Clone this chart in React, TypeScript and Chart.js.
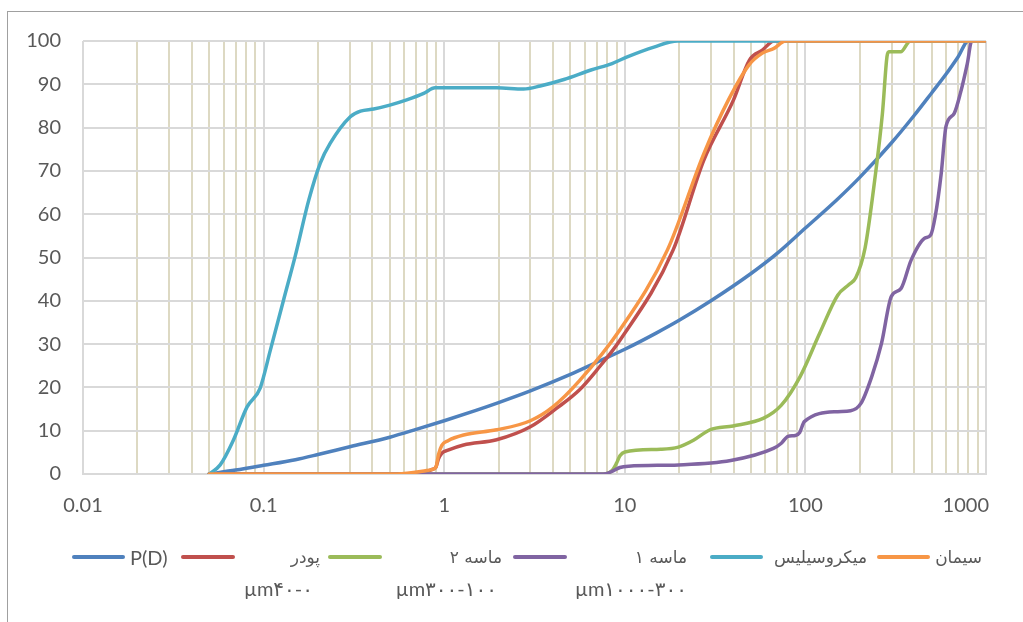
import React, { useEffect, useRef } from "react";
import { Chart, registerables } from "chart.js";

Chart.register(...registerables);

// Particle size (µm) and cumulative passing (%) for each material
const pdSizes = [0.05, 0.07, 0.1, 0.15, 0.2, 0.3, 0.5, 0.7, 1, 1.5, 2, 3, 5, 7, 10, 15, 20, 30, 50, 70, 100, 150, 200, 300, 400, 500, 600, 700, 800, 1000];
const pdValues = [0, 0.9, 2, 3.3, 4.5, 6.3, 8.5, 10.3, 12.3, 14.7, 16.5, 19.2, 23, 25.8, 28.8, 32.6, 35.5, 40, 46.3, 51, 56.8, 63.4, 68.5, 76.5, 82.8, 88, 92.3, 96.3, 100, 100];

const powderSizes = [0.05, 0.6, 0.8, 0.85, 0.9, 0.93, 0.97, 1.05, 1.28, 1.95, 3, 4.2, 5.6, 7, 9.4, 18.5, 27.4, 40, 49, 57.8, 67, 1000];
const powderValues = [0, 0, 0.6, 1, 1.6, 3.5, 4.8, 5.5, 6.7, 7.9, 10.9, 15.2, 19.4, 24, 30.9, 51.7, 72.5, 86.4, 95.6, 97.9, 100, 100];

const sand2Sizes = [0.05, 7.6, 8.5, 9, 9.4, 10, 15.8, 19.8, 24, 29.6, 39.8, 58.8, 73.6, 93.5, 120, 151, 175, 190, 214, 242, 267, 283, 290, 337, 381, 1000];
const sand2Values = [0, 0, 0.8, 2.5, 4.2, 5.1, 5.7, 6.2, 7.8, 10.2, 11.1, 12.9, 15.9, 22.5, 32.5, 41.3, 43.8, 45.3, 52.2, 67.9, 83.3, 96.4, 97.5, 97.5, 100, 100];

const sand1Sizes = [0.05, 7.6, 8.5, 9.4, 10.5, 19.8, 38.6, 66.5, 73.6, 80, 88, 93, 98.6, 151, 178, 203, 233, 264, 299, 338, 385, 455, 494, 523, 565, 600, 667, 721, 788, 834, 1000];
const sand1Values = [0, 0, 0.6, 1.5, 1.8, 2.1, 3.1, 5.9, 7.1, 8.7, 8.9, 9.6, 12.1, 14.4, 14.6, 16.3, 22.5, 30.2, 41, 42.8, 49.4, 54.4, 55.2, 59.4, 69.4, 80.2, 83.3, 87.9, 94.8, 100, 100];

const silicaSizes = [0.05, 0.0575, 0.068, 0.081, 0.0956, 0.109, 0.129, 0.15, 0.178, 0.206, 0.234, 0.302, 0.344, 0.407, 0.5, 0.62, 0.77, 0.89, 1.95, 2.75, 3.4, 4.6, 6.5, 8.5, 10.4, 14.5, 19.6, 1000];
const silicaValues = [0, 2.1, 7.8, 15.5, 19.8, 28.6, 40.2, 50.5, 63.3, 71.8, 76.4, 82.5, 83.8, 84.3, 85.2, 86.4, 87.9, 89.2, 89.2, 88.9, 89.6, 91.1, 93.3, 94.8, 96.4, 98.6, 100, 100];

const cementSizes = [0.05, 0.55, 0.8, 0.85, 0.9, 0.93, 0.97, 1.05, 1.28, 1.95, 3, 4, 5.6, 9.4, 17.2, 27.4, 37.5, 49, 57.8, 67, 77.5, 1000];
const cementValues = [0, 0, 0.8, 1, 1.6, 4.5, 6.6, 7.7, 9, 10.2, 12.3, 15.5, 21.5, 33.3, 51.7, 74, 86.4, 94.6, 97.2, 98.3, 100, 100];

// Axis ticks
const xDecades = [0.01, 0.1, 1, 10, 100, 1000];
const xTickLabels = ["0.01", "0.1", "1", "10", "100", "1000"];
const yTickStep = 10;

const COLORS = {
  pd: "#4F81BD",
  powder: "#C0504D",
  sand2: "#9BBB59",
  sand1: "#8064A2",
  silica: "#4BACC6",
  cement: "#F79646",
};

const toPoints = (xs: number[], ys: number[]) => xs.map((x, i) => ({ x, y: ys[i] }));

const isDecade = (v: number) => xDecades.some((d) => Math.abs(Math.log10(v) - Math.log10(d)) < 1e-6);

const gridValues: number[] = [];
for (let k = 0; k < xDecades.length - 1; k++) {
  for (let m = 1; m <= 9; m++) gridValues.push(Number((xDecades[k] * m).toPrecision(6)));
}
gridValues.push(xDecades[xDecades.length - 1]);

const tickFamily = "Lato, 'Open Sans', sans-serif";
const tickFont = { family: tickFamily, size: 20 };
const textColor = "#595959";

// Decade labels under the log axis; the last one is kept inside the plot edge
const decadeLabelsPlugin = {
  id: "decadeLabels",
  afterDraw(chart: any) {
    const scale = chart.scales.x;
    const ctx = chart.ctx;
    ctx.save();
    ctx.font = `20px ${tickFamily}`;
    ctx.fillStyle = textColor;
    ctx.textBaseline = "middle";
    const y = chart.chartArea.bottom + 32;
    xDecades.forEach((d, i) => {
      const px = scale.getPixelForValue(d);
      const last = i === xDecades.length - 1;
      ctx.textAlign = last ? "right" : "center";
      ctx.fillText(xTickLabels[i], last ? px + 3 : px, y);
    });
    ctx.restore();
  },
};

type LegendItem = {
  color: string;
  x1: number;
  x2: number;
  line1: string;
  line1Right?: number;
  line1Left?: number;
  line2?: string;
  line2Right?: number;
};

const legendItems: LegendItem[] = [
  { color: COLORS.pd, x1: 72, x2: 125, line1: "P(D)", line1Left: 130 },
  { color: COLORS.powder, x1: 181, x2: 235, line1: "پودر", line1Right: 320, line2: "µm۴۰-۰", line2Right: 313 },
  { color: COLORS.sand2, x1: 328, x2: 382, line1: "ماسه ۲", line1Right: 502, line2: "µm۳۰۰-۱۰۰", line2Right: 497 },
  { color: COLORS.sand1, x1: 513, x2: 567, line1: "ماسه ۱", line1Right: 687, line2: "µm۱۰۰۰-۳۰۰", line2Right: 687 },
  { color: COLORS.silica, x1: 710, x2: 763, line1: "میکروسیلیس", line1Right: 867 },
  { color: COLORS.cement, x1: 877, x2: 930, line1: "سیمان", line1Right: 982 },
];

const W = 1023;
const H = 622;
const ROW1 = 557;
const ROW2 = 588;

function Legend() {
  const textBase: React.CSSProperties = {
    position: "absolute",
    whiteSpace: "nowrap",
    color: textColor,
    lineHeight: "24px",
    height: 24,
  };
  const latin = "Lato, 'DejaVu Sans', sans-serif";
  const arabic = "'DejaVu Sans', 'Noto Sans', sans-serif";
  return (
    <>
      {legendItems.map((it, i) => (
        <React.Fragment key={i}>
          <div
            style={{
              position: "absolute",
              left: it.x1,
              top: ROW1 - 1.75,
              width: it.x2 - it.x1,
              height: 3.5,
              borderRadius: 2,
              background: it.color,
            }}
          />
          {it.line1Left !== undefined ? (
            <span style={{ ...textBase, left: it.line1Left, top: ROW1 - 12, fontFamily: latin, fontSize: 20 }}>{it.line1}</span>
          ) : (
            <span
              dir="rtl"
              style={{ ...textBase, right: W - (it.line1Right as number), top: ROW1 - 12, fontFamily: arabic, fontSize: 17 }}
            >
              {it.line1}
            </span>
          )}
          {it.line2 && (
            <span
              dir="ltr"
              style={{ ...textBase, right: W - (it.line2Right as number), top: ROW2 - 12, fontFamily: latin, fontSize: 20 }}
            >
              {it.line2}
            </span>
          )}
        </React.Fragment>
      ))}
    </>
  );
}

export default function App() {
  const canvasRef = useRef<HTMLCanvasElement>(null);

  useEffect(() => {
    if (!canvasRef.current) return;
    const ds = (data: { x: number; y: number }[], color: string) => ({
      data,
      borderColor: color,
      backgroundColor: color,
      borderWidth: 3.5,
      pointRadius: 0,
      fill: false,
      cubicInterpolationMode: "monotone" as const,
      borderCapStyle: "round" as const,
      borderJoinStyle: "round" as const,
    });

    // First dataset is painted last, so the list runs from top-most to bottom-most
    const chart = new Chart(canvasRef.current, {
      type: "line",
      data: {
        datasets: [
          ds(toPoints(cementSizes, cementValues), COLORS.cement),
          ds(toPoints(silicaSizes, silicaValues), COLORS.silica),
          ds(toPoints(sand1Sizes, sand1Values), COLORS.sand1),
          ds(toPoints(sand2Sizes, sand2Values), COLORS.sand2),
          ds(toPoints(powderSizes, powderValues), COLORS.powder),
          ds(toPoints(pdSizes, pdValues), COLORS.pd),
        ],
      },
      options: {
        responsive: false,
        animation: false,
        layout: { padding: { left: 0, top: 41, right: 37, bottom: 103 } },
        plugins: { legend: { display: false }, tooltip: { enabled: false } },
        scales: {
          x: {
            type: "logarithmic",
            min: xDecades[0],
            max: xDecades[xDecades.length - 1],
            afterBuildTicks: (axis: any) => {
              axis.ticks = gridValues.map((v) => ({ value: v }));
            },
            afterFit: (axis: any) => {
              axis.height = 45;
            },
            ticks: {
              autoSkip: false,
              maxRotation: 0,
              padding: 20,
              font: tickFont,
              color: textColor,
              callback: () => "",
            },
            grid: {
              drawTicks: false,
              lineWidth: 2,
              color: (ctx: any) => (ctx.tick && isDecade(ctx.tick.value) ? "#D9D9D9" : "#DDD9C3"),
            },
            border: { color: "#D9D9D9", width: 2 },
          },
          y: {
            min: 0,
            max: 100,
            afterFit: (axis: any) => {
              axis.width = 83;
            },
            ticks: { stepSize: yTickStep, padding: 22, font: tickFont, color: textColor },
            grid: { drawTicks: false, lineWidth: 2, color: "#D9D9D9" },
            border: { display: false },
          },
        },
      },
      plugins: [decadeLabelsPlugin],
    });
    return () => chart.destroy();
  }, []);

  return (
    <div style={{ position: "fixed", left: 0, top: 0, width: W, height: H, background: "#fff", overflow: "hidden" }}>
      <div
        style={{
          position: "absolute",
          left: 7,
          top: 11,
          width: 1100,
          height: 800,
          border: "1px solid #A0A0A0",
        }}
      />
      <canvas ref={canvasRef} width={W} height={H} style={{ position: "absolute", left: 0, top: 0 }} />
      <Legend />
    </div>
  );
}
